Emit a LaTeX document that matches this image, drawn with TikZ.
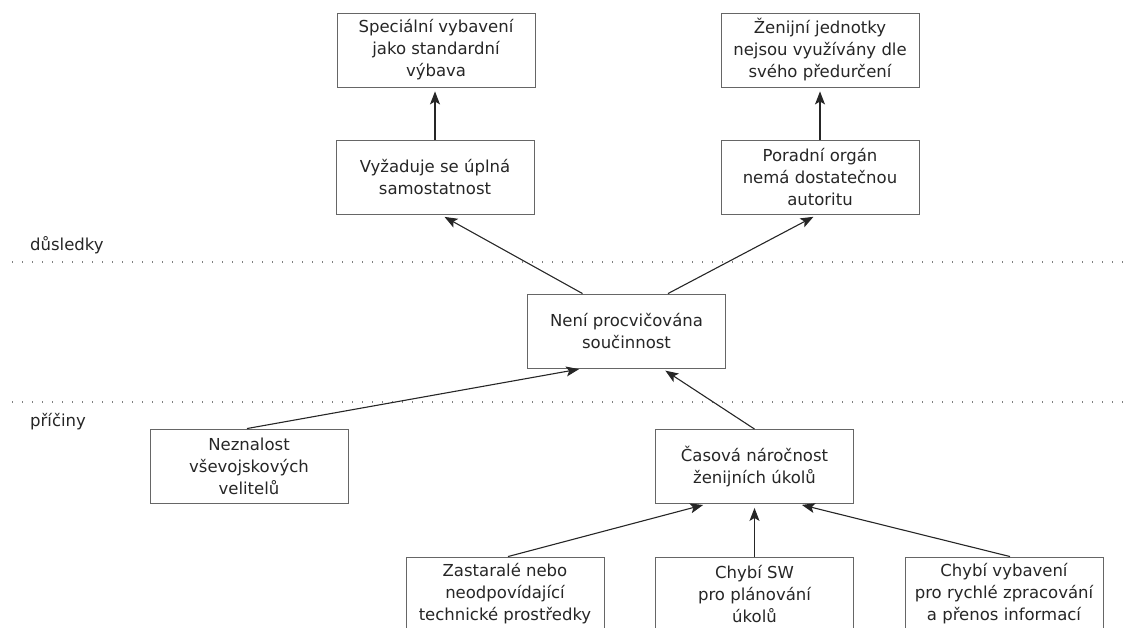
\documentclass[tikz,border=0pt]{standalone}
\usepackage{fontspec}
\setmainfont{DejaVu Sans}
\usetikzlibrary{arrows.meta}
\begin{document}
\begin{tikzpicture}[x=1pt,y=-1pt,
 box/.style={draw=black!60, line width=0.9pt, minimum width=198pt, minimum height=74pt, align=center, inner sep=0pt, font=\fontsize{16.5}{22}\selectfont, text=black!85},
 arr/.style={draw=black!85, line width=1.1pt, -{Stealth[length=13pt,width=10pt,inset=3pt]}, shorten >=4pt},
 sep/.style={draw=black!50, line width=1.2pt, dash pattern=on 1.2pt off 8.8pt},
 lbl/.style={anchor=west, font=\fontsize{16.5}{22}\selectfont, text=black!85, inner sep=0pt}]
\useasboundingbox (0,0) rectangle (1128,628);
\clip (0,0) rectangle (1128,628);

\node[box] (spec) at (436,50) {Speciální vybavení\\jako standardní\\výbava};
\node[box] (zen) at (820,50) {Ženijní jednotky\\nejsou využívány dle\\svého předurčení};
\node[box] (vyz) at (435,177.5) {Vyžaduje se úplná\\samostatnost};
\node[box] (por) at (820,177.5) {Poradní orgán\\nemá dostatečnou\\autoritu};
\node[box] (neni) at (626.5,331) {Není procvičována\\součinnost};
\node[box] (nez) at (249,466) {Neznalost\\vševojskových\\velitelů};
\node[box] (cas) at (754.5,466.5) {Časová náročnost\\ženijních úkolů};
\node[box] (zas) at (505,594) {Zastaralé nebo\\neodpovídající\\technické prostředky};
\node[box] (sw) at (754.5,594) {Chybí SW\\pro plánování\\úkolů};
\node[box] (vyb) at (1004,594) {Chybí vybavení\\pro rychlé zpracování\\a přenos informací};

\node[lbl] (dus) at (30,245) {důsledky};
\node[lbl] (pri) at (30,422) {příčiny};

\coordinate (s1a) at (12,262);
\coordinate (s1b) at (1128,262);
\coordinate (s2a) at (12,402);
\coordinate (s2b) at (1128,402);
\draw[sep] (s1a) -- (s1b);
\draw[sep] (s2a) -- (s2b);

\draw[arr] (vyz.north) -- (vyz.north |- spec.south);
\draw[arr] (por.north) -- (zen.south);
\draw[arr] ([xshift=-44pt]neni.north) -- ([xshift=6pt]vyz.south);
\draw[arr] ([xshift=41.5pt]neni.north) -- ([xshift=-3pt]por.south);
\draw[arr] ([xshift=-2pt]nez.north) -- ([xshift=-43.5pt]neni.south);
\draw[arr] (cas.north) -- ([xshift=35.5pt]neni.south);
\draw[arr] ([xshift=3pt]zas.north) -- ([xshift=-47.5pt]cas.south);
\draw[arr] (sw.north) -- (cas.south);
\draw[arr] ([xshift=6pt]vyb.north) -- ([xshift=43.5pt]cas.south);
\end{tikzpicture}
\end{document}
